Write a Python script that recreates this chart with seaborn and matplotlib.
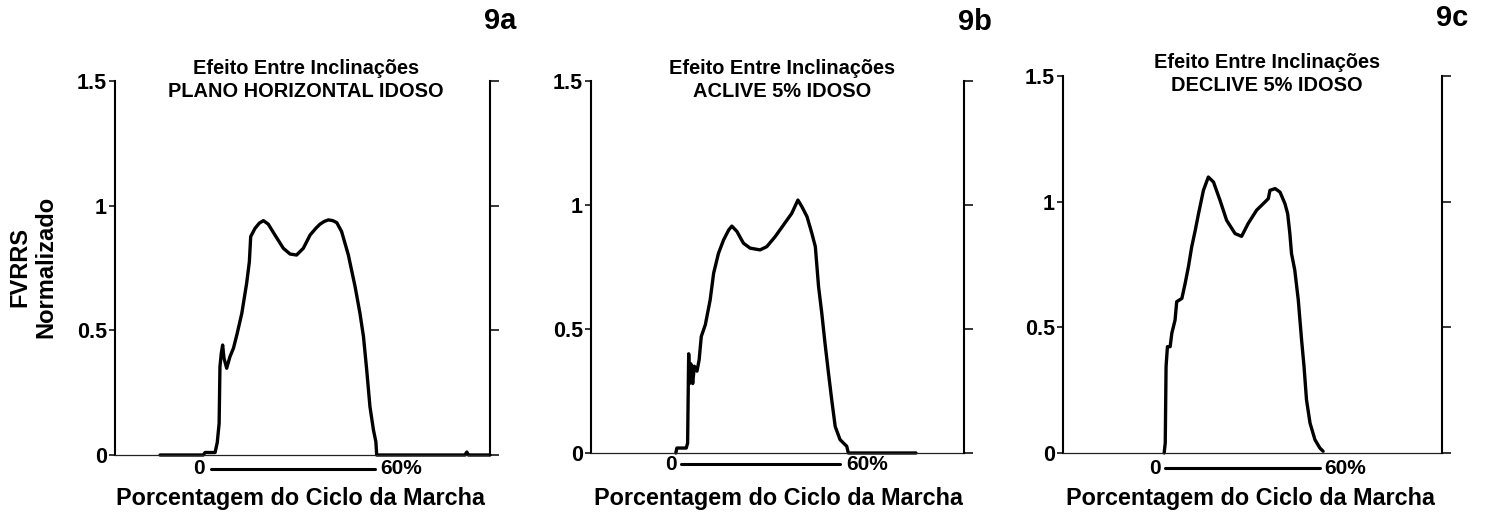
import numpy as np
import pandas as pd
import matplotlib
matplotlib.use("Agg")
import matplotlib.pyplot as plt
import seaborn as sns

# ---------------- data (x = % of gait cycle, y = normalised FVRRS) ----------------
titles = ["Efeito Entre Inclinações\nPLANO HORIZONTAL IDOSO",
          "Efeito Entre Inclinações\nACLIVE 5% IDOSO",
          "Efeito Entre Inclinações\nDECLIVE 5% IDOSO"]
panel_tags = ["9a", "9b", "9c"]
ytick_vals = [0, 0.5, 1, 1.5]
ytick_labels = ["0", "0.5", "1", "1.5"]
xlabel = "Porcentagem do Ciclo da Marcha"
ylabel = "FVRRS\nNormalizado"
bar_labels = ["0", "60%"]

x_a = [-18.3, -2.3, -1.6, 2.1, 2.9, 3.6, 3.9, 4.4, 4.9, 5.4, 6.4, 7.6, 8.9, 10.3, 12.0,
       13.8, 14.8, 15.3, 16.9, 18.5, 20.0, 21.8, 24.3, 27.4, 29.9, 32.3, 34.8, 37.3,
       39.5, 41.0, 42.6, 44.1, 45.7, 47.2, 49.0, 51.5, 54.0, 55.8, 57.1, 58.3, 59.5,
       60.8, 61.7, 62.0, 94.7, 95.4, 96.0, 104.0]
y_a = [0.0, 0.0, 0.01, 0.01, 0.05, 0.127, 0.354, 0.408, 0.441, 0.388, 0.348, 0.394,
       0.428, 0.488, 0.568, 0.689, 0.775, 0.876, 0.909, 0.930, 0.940, 0.926, 0.882,
       0.829, 0.806, 0.802, 0.829, 0.882, 0.910, 0.926, 0.937, 0.943, 0.940, 0.932,
       0.896, 0.802, 0.675, 0.568, 0.475, 0.341, 0.194, 0.100, 0.053, 0.0, 0.0, 0.012,
       0.0, 0.0]

x_b = [-3.4, -3.0, 0.5, 1.0, 1.4, 1.7, 2.2, 2.9, 3.5, 4.5, 5.3, 6.1, 7.6, 9.4, 10.7,
       12.5, 14.4, 16.3, 17.5, 19.4, 21.8, 24.3, 28.0, 30.5, 33.6, 36.7, 39.8, 42.1,
       43.6, 45.5, 47.3, 48.6, 49.8, 51.0, 52.2, 53.5, 54.7, 56.0, 57.8, 60.3, 60.9,
       86.1]
y_b = [0.0, 0.02, 0.02, 0.04, 0.40, 0.28, 0.36, 0.28, 0.35, 0.33, 0.376, 0.47, 0.517,
       0.617, 0.725, 0.805, 0.859, 0.899, 0.915, 0.893, 0.846, 0.826, 0.819, 0.832,
       0.872, 0.919, 0.966, 1.02, 0.993, 0.953, 0.886, 0.832, 0.671, 0.564, 0.443,
       0.322, 0.215, 0.107, 0.054, 0.027, 0.0, 0.0]

x_c = [2.1, 2.5, 2.8, 3.3, 4.3, 4.9, 6.1, 6.7, 8.6, 9.8, 11.0, 12.2, 13.5, 14.7, 16.5,
       18.3, 20.2, 22.6, 25.0, 28.1, 30.5, 32.9, 36.0, 39.1, 40.3, 40.9, 42.8, 44.6,
       46.4, 47.4, 48.2, 48.8, 50.0, 51.3, 52.5, 53.4, 54.3, 55.6, 57.4, 59.2, 60.4]
y_c = [0.0, 0.04, 0.344, 0.423, 0.423, 0.476, 0.529, 0.602, 0.615, 0.675, 0.741, 0.820,
       0.886, 0.952, 1.045, 1.098, 1.078, 1.005, 0.926, 0.873, 0.862, 0.913, 0.966,
       0.999, 1.012, 1.045, 1.052, 1.038, 0.992, 0.952, 0.873, 0.794, 0.728, 0.608,
       0.450, 0.344, 0.212, 0.119, 0.053, 0.020, 0.007]

xs = [x_a, x_b, x_c]
ys = [y_a, y_b, y_c]

# ---------------- style ----------------
sns.set_theme(style="ticks")
plt.rcParams["font.family"] = ["Liberation Sans", "DejaVu Sans"]
plt.rcParams["font.weight"] = "bold"
for k in ["text.color", "axes.labelcolor", "xtick.color", "ytick.color",
          "axes.edgecolor"]:
    plt.rcParams[k] = "black"

W, H = 1487, 520
fig = plt.figure(figsize=(W / 100, H / 100), dpi=100)

# axes boxes in pixels: left, right, top(y of 1.5), bottom(y of 0)
boxes = [(115, 490, 81, 455), (591, 964, 81, 453), (1063, 1442, 76, 453)]
title_pos = [(306, 80), (782, 80), (1267, 74)]
tag_pos = [(500, 21), (975, 22), (1452, 18)]
xlabel_pos = [(300, 499), (778, 499), (1250, 499)]
# scale bar: "0" right edge, line start, line end, "60%" left edge, y  (pixels)
bars = [(205, 211, 375, 380, 468.7), (677, 681, 840, 846, 464.3),
        (1161, 1165, 1320, 1324, 468.3)]

def fx(px):
    return px / W

def fy(py):
    return 1 - py / H

for i in range(3):
    l, r, t, b = boxes[i]
    ax = fig.add_axes([fx(l), fy(b), (r - l) / W, (b - t) / H])
    df = pd.DataFrame({"x": xs[i], "y": ys[i]})
    sns.lineplot(data=df, x="x", y="y", ax=ax, sort=False, estimator=None,
                 color="black", linewidth=2.4, clip_on=False)
    ax.set_xlim(-35, 104)
    ax.set_ylim(0, 1.5)
    ax.set_xticks([])
    ax.set_yticks(ytick_vals)
    ax.set_yticklabels(ytick_labels, fontsize=15.5, fontweight="bold", color="black")
    ax.tick_params(axis="y", direction="out", length=4.5, width=1.1, pad=1.2,
                   color="black")
    ax.set_xlabel("")
    ax.set_ylabel("")
    for s in ["top", "right"]:
        ax.spines[s].set_visible(False)
    ax.spines["left"].set_linewidth(1.5)
    ax.spines["left"].set_color("black")
    ax.spines["bottom"].set_linewidth(0.9)
    ax.spines["bottom"].set_color("#222222")
    ax.patch.set_alpha(0)

    ax2 = ax.twinx()
    ax2.set_ylim(0, 1.5)
    ax2.set_yticks(ytick_vals)
    ax2.tick_params(axis="y", direction="out", length=6.5, width=1.1,
                    labelright=False, color="black")
    for s in ["top", "left", "bottom"]:
        ax2.spines[s].set_visible(False)
    ax2.spines["right"].set_linewidth(1.5)
    ax2.spines["right"].set_color("black")

    # titles, tags, labels
    tx, ty = title_pos[i]
    fig.text(fx(tx), fy(ty), titles[i], ha="center", va="center", fontsize=14.4,
             fontweight="bold", linespacing=1.22)
    gx, gy = tag_pos[i]
    fig.text(fx(gx), fy(gy), panel_tags[i], ha="center", va="center", fontsize=21,
             fontweight="bold")
    lx, ly = xlabel_pos[i]
    fig.text(fx(lx), fy(ly), xlabel, ha="center", va="center", fontsize=16.8,
             fontweight="bold")

    # scale bar "0 ---- 60%"
    z_r, s0, s1, p_l, by = bars[i]
    fig.add_artist(plt.Line2D([fx(s0), fx(s1)], [fy(by), fy(by)], color="black",
                              linewidth=2.2, transform=fig.transFigure))
    fig.text(fx(z_r), fy(by), bar_labels[0], ha="right", va="center", fontsize=15,
             fontweight="bold")
    fig.text(fx(p_l), fy(by), bar_labels[1], ha="left", va="center", fontsize=15,
             fontweight="bold")

fig.text(fx(33), fy(267), ylabel, ha="center", va="center", rotation=90,
         fontsize=17, fontweight="bold", linespacing=1.15)

fig.savefig("out.png", dpi=100)
